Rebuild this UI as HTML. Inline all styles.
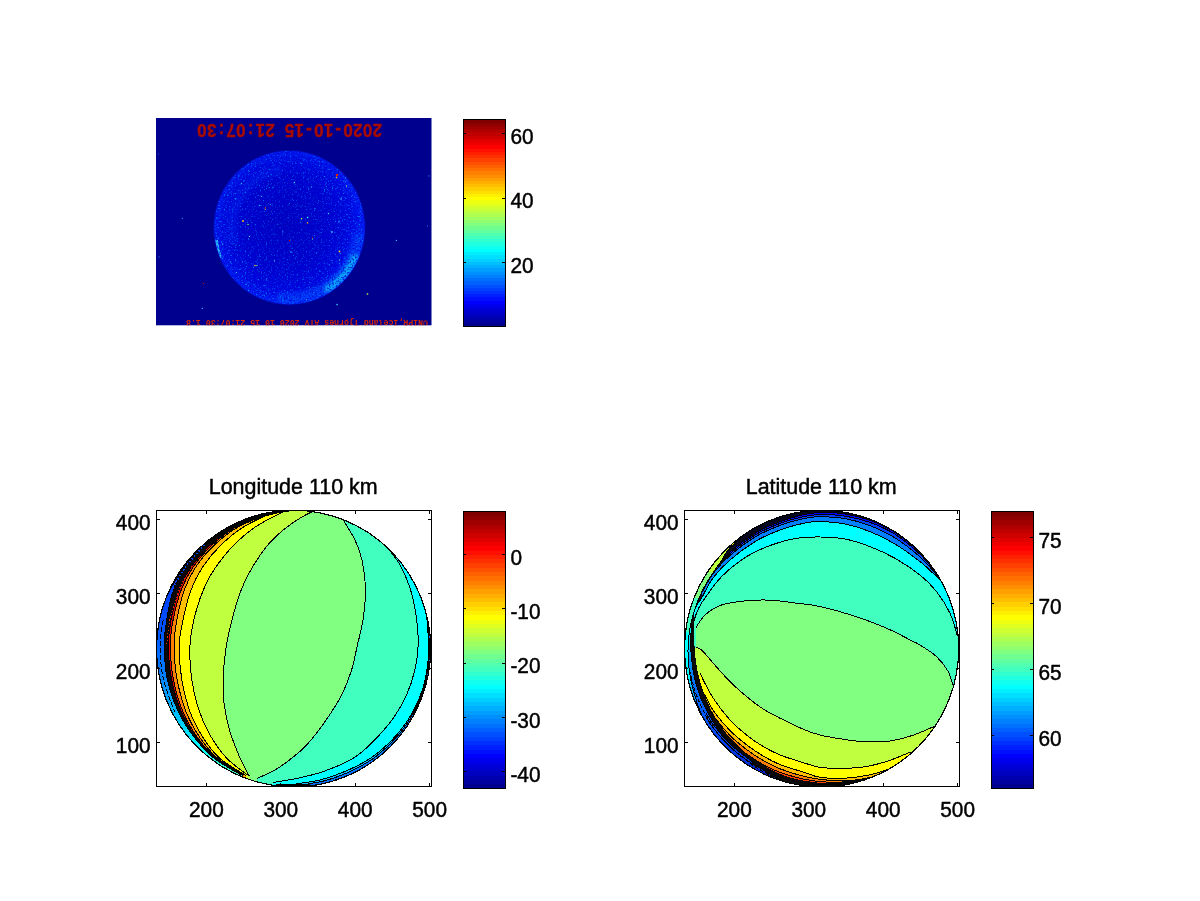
<!DOCTYPE html>
<html lang="en"><head><meta charset="utf-8"><title>Figure 1</title>
<style>html,body{margin:0;padding:0;background:#fff}body{width:1200px;height:901px;overflow:hidden}svg{display:block}text{font-family:"Liberation Sans",sans-serif;font-size:20.83px;fill:#000;stroke:#000;stroke-width:0.45px}</style></head><body>
<svg width="1200" height="901" viewBox="0 0 1200 901">
<defs>
<clipPath id="cb1"><rect x="156" y="510" width="276" height="277"/></clipPath>
<clipPath id="cb2"><rect x="684" y="510" width="276" height="277"/></clipPath>
<clipPath id="ce1" clip-path="url(#cb1)"><ellipse cx="293.6" cy="648.6" rx="137.1" ry="138.3"/></clipPath>
<clipPath id="ce2" clip-path="url(#cb2)"><ellipse cx="821.6" cy="648.6" rx="137.1" ry="138.3"/></clipPath>
<clipPath id="cimg"><rect x="156" y="118" width="275.5" height="207.3"/></clipPath>
<clipPath id="cdisc"><ellipse cx="289.4" cy="227.6" rx="75.2" ry="76.6"/></clipPath>
<radialGradient id="disc" cx="0.47" cy="0.47" r="0.55"><stop offset="0" stop-color="#0000BE"/><stop offset="0.55" stop-color="#0002CE"/><stop offset="0.85" stop-color="#000AE6"/><stop offset="1" stop-color="#0018F8"/></radialGradient>
<radialGradient id="nmg" cx="0.5" cy="0.5" r="0.5"><stop offset="0" stop-color="#fff" stop-opacity="0.6"/><stop offset="0.6" stop-color="#fff" stop-opacity="0.75"/><stop offset="1" stop-color="#fff" stop-opacity="1"/></radialGradient>
<mask id="nm" maskUnits="userSpaceOnUse" x="210" y="148" width="160" height="160"><ellipse cx="289.4" cy="227.6" rx="75.2" ry="76.6" fill="url(#nmg)"/></mask>
<filter id="bl" x="-20%" y="-20%" width="140%" height="140%"><feGaussianBlur stdDeviation="2.2"/></filter>
<filter id="bl2" x="-20%" y="-20%" width="140%" height="140%"><feGaussianBlur stdDeviation="5"/></filter>
<filter id="noise" x="0" y="0" width="100%" height="100%"><feTurbulence type="fractalNoise" baseFrequency="0.62" numOctaves="2" seed="11" result="t"/><feColorMatrix in="t" type="matrix" values="0 0 0 0 0  1.3 0 0 0 -0.48  0 0 0 0 1  0 3.0 0 0 -1.56"/></filter>
<filter id="noised" x="0" y="0" width="100%" height="100%"><feTurbulence type="fractalNoise" baseFrequency="0.58" numOctaves="2" seed="29" result="t"/><feColorMatrix in="t" type="matrix" values="0 0 0 0 0  0 0 0 0 0  0 0 0 0 0.60  0 0 3.2 0 -1.5"/></filter>
<linearGradient id="rimL" gradientUnits="userSpaceOnUse" x1="0" y1="510" x2="0" y2="787"><stop offset="0" stop-color="#0020E0"/><stop offset="0.42" stop-color="#0050FF"/><stop offset="0.60" stop-color="#0080FF"/><stop offset="0.74" stop-color="#00BFFF"/><stop offset="0.86" stop-color="#00FFFF"/><stop offset="0.95" stop-color="#40FFBF"/><stop offset="1" stop-color="#80FF80"/></linearGradient>
<linearGradient id="rimR" gradientUnits="userSpaceOnUse" x1="0" y1="600" x2="0" y2="790"><stop offset="0" stop-color="#00FFFF"/><stop offset="0.22" stop-color="#00E8FF"/><stop offset="0.30" stop-color="#00A0FF"/><stop offset="0.45" stop-color="#0070FF"/><stop offset="0.75" stop-color="#0040F0"/><stop offset="1" stop-color="#0018B0"/></linearGradient>
<linearGradient id="rimR2" gradientUnits="userSpaceOnUse" x1="0" y1="536" x2="0" y2="720"><stop offset="0" stop-color="#FFFF00"/><stop offset="0.05" stop-color="#FFFF00"/><stop offset="0.06" stop-color="#BFFF40"/><stop offset="0.195" stop-color="#BFFF40"/><stop offset="0.2" stop-color="#80FF80"/><stop offset="0.335" stop-color="#80FF80"/><stop offset="0.34" stop-color="#40FFBF"/><stop offset="0.52" stop-color="#40FFBF"/><stop offset="0.53" stop-color="#00FFFF"/><stop offset="0.78" stop-color="#00FFFF"/><stop offset="0.8" stop-color="#00BFFF"/><stop offset="1" stop-color="#0080FF"/></linearGradient>
</defs>
<rect width="1200" height="901" fill="#fff"/>
<rect x="156" y="118" width="275.5" height="207.3" fill="#00008F"/>
<g clip-path="url(#cimg)">
<ellipse cx="289.4" cy="227.6" rx="76" ry="77.4" fill="#0010D0" opacity="0.6"/>
<ellipse cx="289.4" cy="227.6" rx="75.2" ry="76.6" fill="url(#disc)"/>
<g clip-path="url(#cdisc)">
<ellipse cx="289.4" cy="227.6" rx="75.2" ry="76.6" fill="none" stroke="#0030FF" stroke-width="12" opacity="0.45" filter="url(#bl2)"/>
<path d="M359.2 232.6 A70 71.4 0 0 1 277.2 297.9" fill="none" stroke="#0050FF" stroke-width="13" opacity="0.6" filter="url(#bl)"/>
<path d="M355.7 254.9 A71.5 72.9 0 0 1 325.1 290.7" fill="none" stroke="#10C8FF" stroke-width="7" opacity="0.9" filter="url(#bl)"/>
<path d="M216.3 240 A75.2 76.6 0 0 0 220.5 258" fill="none" stroke="#30E0FF" stroke-width="3.2" opacity="0.85"/>
<path d="M233.4 242.9 A58 59 0 0 1 281.3 169.2" fill="none" stroke="#0030F8" stroke-width="10" opacity="0.35" filter="url(#bl)"/>
<rect x="210" y="148" width="160" height="160" filter="url(#noise)" mask="url(#nm)"/>
<rect x="210" y="148" width="160" height="160" filter="url(#noised)" opacity="0.8"/>
</g>
<rect x="335.9" y="173.9" width="2.2" height="2.2" fill="#E02000"/>
<rect x="335.9" y="176.8" width="1.4" height="1.4" fill="#FFC000"/>
<rect x="264.7" y="207.3" width="1.3" height="1.3" fill="#E01010"/>
<rect x="264.8" y="208.7" width="1" height="1" fill="#80FF80"/>
<rect x="242.2" y="220.2" width="1.6" height="1.6" fill="#FFE000"/>
<rect x="247.4" y="223.9" width="1.2" height="1.2" fill="#80FF60"/>
<rect x="288.9" y="239.9" width="1.2" height="1.2" fill="#E00000"/>
<rect x="311.9" y="237.4" width="1.2" height="1.2" fill="#C00000"/>
<rect x="312" y="238.5" width="1" height="1" fill="#40FFC0"/>
<rect x="338.7" y="250.7" width="1.6" height="1.6" fill="#FFC000"/>
<rect x="306.9" y="222.3" width="1.3" height="1.3" fill="#FFB000"/>
<rect x="300.9" y="218" width="1.3" height="1.3" fill="#A0FF40"/>
<rect x="306.9" y="216.8" width="1.3" height="1.3" fill="#20FFE0"/>
<rect x="254.3" y="264.9" width="1.3" height="1.3" fill="#FFE000"/>
<rect x="256.4" y="264.9" width="1.1" height="1.1" fill="#60FFA0"/>
<rect x="293.9" y="181.9" width="1.2" height="1.2" fill="#40E0FF"/>
<rect x="240.9" y="182.9" width="1.2" height="1.2" fill="#40C0FF"/>
<rect x="310.9" y="186.4" width="1.2" height="1.2" fill="#30A0FF"/>
<rect x="345.9" y="185.4" width="1.1" height="1.1" fill="#A0FF80"/>
<rect x="340.4" y="198.3" width="1.3" height="1.3" fill="#40C0FF"/>
<rect x="260.9" y="195.9" width="1.1" height="1.1" fill="#30B0FF"/>
<rect x="258.9" y="204.9" width="1.2" height="1.2" fill="#30C0FF"/>
<rect x="269.9" y="203.9" width="1.1" height="1.1" fill="#2090FF"/>
<rect x="327.9" y="212.9" width="1.2" height="1.2" fill="#40D0FF"/>
<rect x="338.4" y="221.4" width="1.2" height="1.2" fill="#30B0FF"/>
<rect x="331.2" y="231.2" width="1.5" height="1.5" fill="#40D0FF"/>
<rect x="248.9" y="235.9" width="1.1" height="1.1" fill="#40D0FF"/>
<rect x="290.4" y="251.3" width="1.3" height="1.3" fill="#30B0FF"/>
<rect x="273.9" y="260.4" width="1.1" height="1.1" fill="#40D0FF"/>
<rect x="338.9" y="259.4" width="1.1" height="1.1" fill="#40E0C0"/>
<rect x="235.9" y="271.9" width="1.1" height="1.1" fill="#30B0FF"/>
<rect x="265.9" y="278.4" width="1.1" height="1.1" fill="#2090FF"/>
<rect x="282.4" y="231.4" width="1.1" height="1.1" fill="#2090FF"/>
<rect x="295.5" y="191.5" width="1" height="1" fill="#2090FF"/>
<rect x="222" y="243.5" width="1" height="1" fill="#40D0FF"/>
<rect x="316" y="252.5" width="1" height="1" fill="#2090FF"/>
<rect x="366.8" y="293.3" width="1.4" height="1.4" fill="#C0FF40"/>
<rect x="336.4" y="303.9" width="1.3" height="1.3" fill="#40E0FF"/>
<rect x="202.9" y="282.9" width="1.1" height="1.1" fill="#C00000"/>
<rect x="201.8" y="307.9" width="1.1" height="1.1" fill="#40C0FF"/>
<rect x="395.9" y="239.9" width="1.1" height="1.1" fill="#40C0FF"/>
<rect x="181.8" y="217.9" width="1.1" height="1.1" fill="#3080FF"/>
<rect x="158.5" y="256.5" width="1" height="1" fill="#3080FF"/>
<rect x="428.4" y="175.4" width="1.1" height="1.1" fill="#3080FF"/>
<rect x="427" y="225.5" width="1" height="1" fill="#3070FF"/>
<rect x="158" y="153.5" width="1" height="1" fill="#2050E0"/>
<rect x="347" y="319" width="1" height="1" fill="#B00000"/>
<text transform="translate(289.6 131) rotate(180) scale(0.94 1)" text-anchor="middle" x="-93.3 -82.9 -72.5 -62.2 -51.8 -41.4 -31.1 -20.7 -10.4 0 10.4 20.7 31.1 41.4 51.8 62.2 72.5 82.9 93.3" y="6.5" style="font-family:'Liberation Sans',sans-serif;font-size:18px;font-weight:bold;fill:#A80C00;stroke:#A80C00;stroke-width:0.4px">2020-10-15 21:07:30</text>
<text transform="translate(307 323.4) rotate(180)" text-anchor="middle" y="3" style="font-family:'Liberation Mono',monospace;font-size:8.2px;font-weight:bold;fill:#D82800;stroke:none" textLength="242" lengthAdjust="spacingAndGlyphs">©NIPR,Iceland Tjornes ATV 2020 10 15 21:07:30 1.8</text>
</g>
<g shape-rendering="crispEdges">
<rect x="463.5" y="119.5" width="42" height="3.53" fill="#800000"/>
<rect x="463.5" y="122.7" width="42" height="3.53" fill="#8F0000"/>
<rect x="463.5" y="126" width="42" height="3.53" fill="#9F0000"/>
<rect x="463.5" y="129.2" width="42" height="3.53" fill="#AF0000"/>
<rect x="463.5" y="132.4" width="42" height="3.53" fill="#BF0000"/>
<rect x="463.5" y="135.7" width="42" height="3.53" fill="#CF0000"/>
<rect x="463.5" y="138.9" width="42" height="3.53" fill="#DF0000"/>
<rect x="463.5" y="142.1" width="42" height="3.53" fill="#EF0000"/>
<rect x="463.5" y="145.4" width="42" height="3.53" fill="#FF0000"/>
<rect x="463.5" y="148.6" width="42" height="3.53" fill="#FF1000"/>
<rect x="463.5" y="151.8" width="42" height="3.53" fill="#FF2000"/>
<rect x="463.5" y="155.1" width="42" height="3.53" fill="#FF3000"/>
<rect x="463.5" y="158.3" width="42" height="3.53" fill="#FF4000"/>
<rect x="463.5" y="161.5" width="42" height="3.53" fill="#FF5000"/>
<rect x="463.5" y="164.8" width="42" height="3.53" fill="#FF6000"/>
<rect x="463.5" y="168" width="42" height="3.53" fill="#FF7000"/>
<rect x="463.5" y="171.2" width="42" height="3.53" fill="#FF8000"/>
<rect x="463.5" y="174.5" width="42" height="3.53" fill="#FF8F00"/>
<rect x="463.5" y="177.7" width="42" height="3.53" fill="#FF9F00"/>
<rect x="463.5" y="181" width="42" height="3.53" fill="#FFAF00"/>
<rect x="463.5" y="184.2" width="42" height="3.53" fill="#FFBF00"/>
<rect x="463.5" y="187.4" width="42" height="3.53" fill="#FFCF00"/>
<rect x="463.5" y="190.7" width="42" height="3.53" fill="#FFDF00"/>
<rect x="463.5" y="193.9" width="42" height="3.53" fill="#FFEF00"/>
<rect x="463.5" y="197.1" width="42" height="3.53" fill="#FFFF00"/>
<rect x="463.5" y="200.4" width="42" height="3.53" fill="#EFFF10"/>
<rect x="463.5" y="203.6" width="42" height="3.53" fill="#DFFF20"/>
<rect x="463.5" y="206.8" width="42" height="3.53" fill="#CFFF30"/>
<rect x="463.5" y="210.1" width="42" height="3.53" fill="#BFFF40"/>
<rect x="463.5" y="213.3" width="42" height="3.53" fill="#AFFF50"/>
<rect x="463.5" y="216.5" width="42" height="3.53" fill="#9FFF60"/>
<rect x="463.5" y="219.8" width="42" height="3.53" fill="#8FFF70"/>
<rect x="463.5" y="223" width="42" height="3.53" fill="#80FF80"/>
<rect x="463.5" y="226.2" width="42" height="3.53" fill="#70FF8F"/>
<rect x="463.5" y="229.5" width="42" height="3.53" fill="#60FF9F"/>
<rect x="463.5" y="232.7" width="42" height="3.53" fill="#50FFAF"/>
<rect x="463.5" y="235.9" width="42" height="3.53" fill="#40FFBF"/>
<rect x="463.5" y="239.2" width="42" height="3.53" fill="#30FFCF"/>
<rect x="463.5" y="242.4" width="42" height="3.53" fill="#20FFDF"/>
<rect x="463.5" y="245.6" width="42" height="3.53" fill="#10FFEF"/>
<rect x="463.5" y="248.9" width="42" height="3.53" fill="#00FFFF"/>
<rect x="463.5" y="252.1" width="42" height="3.53" fill="#00EFFF"/>
<rect x="463.5" y="255.3" width="42" height="3.53" fill="#00DFFF"/>
<rect x="463.5" y="258.6" width="42" height="3.53" fill="#00CFFF"/>
<rect x="463.5" y="261.8" width="42" height="3.53" fill="#00BFFF"/>
<rect x="463.5" y="265" width="42" height="3.53" fill="#00AFFF"/>
<rect x="463.5" y="268.3" width="42" height="3.53" fill="#009FFF"/>
<rect x="463.5" y="271.5" width="42" height="3.53" fill="#008FFF"/>
<rect x="463.5" y="274.8" width="42" height="3.53" fill="#0080FF"/>
<rect x="463.5" y="278" width="42" height="3.53" fill="#0070FF"/>
<rect x="463.5" y="281.2" width="42" height="3.53" fill="#0060FF"/>
<rect x="463.5" y="284.5" width="42" height="3.53" fill="#0050FF"/>
<rect x="463.5" y="287.7" width="42" height="3.53" fill="#0040FF"/>
<rect x="463.5" y="290.9" width="42" height="3.53" fill="#0030FF"/>
<rect x="463.5" y="294.2" width="42" height="3.53" fill="#0020FF"/>
<rect x="463.5" y="297.4" width="42" height="3.53" fill="#0010FF"/>
<rect x="463.5" y="300.6" width="42" height="3.53" fill="#0000FF"/>
<rect x="463.5" y="303.9" width="42" height="3.53" fill="#0000EF"/>
<rect x="463.5" y="307.1" width="42" height="3.53" fill="#0000DF"/>
<rect x="463.5" y="310.3" width="42" height="3.53" fill="#0000CF"/>
<rect x="463.5" y="313.6" width="42" height="3.53" fill="#0000BF"/>
<rect x="463.5" y="316.8" width="42" height="3.53" fill="#0000AF"/>
<rect x="463.5" y="320" width="42" height="3.53" fill="#00009F"/>
<rect x="463.5" y="323.3" width="42" height="3.53" fill="#00008F"/>
<rect x="463.5" y="119.5" width="42" height="207" fill="none" stroke="#000" stroke-width="1"/>
<path d="M464 133.5h2M505 133.5h-3" stroke="#000" stroke-width="1"/>
<text transform="translate(510.4 143.9) scale(1 1.05)">60</text>
<path d="M464 198.5h2M505 198.5h-3" stroke="#000" stroke-width="1"/>
<text transform="translate(510.4 208.4) scale(1 1.05)">40</text>
<path d="M464 262.5h2M505 262.5h-3" stroke="#000" stroke-width="1"/>
<text transform="translate(510.4 272.9) scale(1 1.05)">20</text>
</g>
<g clip-path="url(#ce1)" shape-rendering="crispEdges">
<rect x="150" y="500" width="300" height="300" fill="url(#rimL)"/>
<path d="M272.2 472L272.2 512C264.8 514.5 239.5 521.7 227.9 527.2C216.4 532.7 210 538.5 202.8 545C195.6 551.5 189.7 559 184.8 566.5C179.9 574 176.3 581.1 173.3 590C170.2 598.9 168.2 610.8 166.7 620C165.2 629.2 164.2 635.3 164.3 645C164.4 654.7 164.8 667.2 167.1 678.3C169.5 689.4 173.6 701.6 178.3 711.6C182.9 721.6 188.9 730.2 194.9 738C201 745.8 206.6 752.3 214.4 758.5C222.2 764.7 237.1 772.5 241.6 775.3L241.6 815.3L500 830L500 470Z" fill="#080808"/>
<path d="M272.5 472L272.5 512C266.1 514.5 244.6 521.7 234.2 527.2C223.8 532.7 217.4 538.5 210.2 545C203.1 551.5 196.7 559 191.5 566.5C186.3 574 182.6 581.1 179.1 590C175.7 598.9 172.8 610.8 171 620C169.2 629.2 168.4 635.3 168.5 645C168.5 654.7 169.2 667.2 171.3 678.3C173.5 689.4 177.1 701.6 181.3 711.6C185.5 721.6 190.9 730.2 196.6 738C202.3 745.8 207.8 752.3 215.5 758.5C223.1 764.7 237.9 772.5 242.4 775.3L242.4 815.3L500 830L500 470Z" fill="#DF0000"/>
<path d="M272.6 472L272.6 512C266.4 514.5 245.8 521.7 235.7 527.2C225.6 532.7 219.1 538.5 212.1 545C205 551.5 198.6 559 193.5 566.5C188.3 574 184.6 581.1 181.2 590C177.8 598.9 174.9 610.8 173.1 620C171.3 629.2 170.4 635.3 170.4 645C170.4 654.7 171.1 667.2 173.2 678.3C175.2 689.4 178.8 701.6 182.9 711.6C187 721.6 192.2 730.2 197.8 738C203.4 745.8 208.8 752.3 216.3 758.5C223.8 764.7 238.5 772.5 243 775.3L243 815.3L500 830L500 470Z" fill="#FF8000"/>
<path d="M272.7 472L272.7 512C266.9 514.5 247.4 521.7 237.7 527.2C228 532.7 221.4 538.5 214.4 545C207.5 551.5 201.1 559 196.1 566.5C191.1 574 187.5 581.1 184.3 590C181.1 598.9 178.5 610.8 176.8 620C175.1 629.2 174.2 635.3 174.2 645C174.2 654.7 174.9 667.2 176.9 678.3C178.9 689.4 182.1 701.6 186 711.6C189.9 721.6 194.9 730.2 200.2 738C205.5 745.8 210.6 752.3 217.9 758.5C225.3 764.7 239.8 772.5 244.2 775.3L244.2 815.3L500 830L500 470Z" fill="#FFBF00"/>
<path d="M273 472L273 512C268 514.5 251.9 521.7 243.2 527.2C234.5 532.7 227.7 538.5 221 545C214.3 551.5 208 559 203 566.5C198 574 194.3 581.1 191 590C187.7 598.9 184.9 610.8 183 620C181.1 629.2 179.5 635.3 179.3 645C179.1 654.7 179.8 667.2 181.6 678.3C183.4 689.4 186.4 701.6 190 711.6C193.6 721.6 198.3 730.2 203.3 738C208.3 745.8 212.9 752.3 220 758.5C227.1 764.7 241.4 772.5 245.7 775.3L245.7 815.3L500 830L500 470Z" fill="#FFFF00"/>
<path d="M285.5 470.5L285.5 510.5C280.7 513.1 264.8 520.7 256.5 526.2C248.2 531.7 241.8 537.1 235.5 543.3C229.2 549.5 223.5 556.4 218.5 563.3C213.5 570.2 209.3 576.6 205.5 584.9C201.7 593.2 198.1 603.2 195.5 613.2C192.9 623.2 190.7 634.1 190 645C189.3 655.9 190.2 667.8 191.6 678.3C193 688.8 195.2 698.8 198.3 708.3C201.4 717.8 205.3 726.7 210 735C214.7 743.3 220.4 751.3 226.6 758C232.8 764.7 243.9 772.2 247.4 775L247.4 815L500 830L500 470Z" fill="#BFFF40"/>
<path d="M312.5 471.5L312.5 511.5C310.4 512.6 304.7 515.2 299.8 518.3C294.9 521.4 288.8 525.3 283.2 530C277.6 534.7 272.1 539.7 266.5 546.6C260.9 553.5 254.3 563.8 249.9 571.6C245.5 579.4 243 584.9 239.9 593.2C236.8 601.5 234 612 231.6 621.5C229.2 631 227.1 640.5 225.7 650C224.3 659.5 223.5 669.4 223.2 678.3C222.9 687.2 222.9 694.4 224 703.3C225.1 712.2 227.3 722.5 230 731.6C232.7 740.7 236.8 750.5 240 758C243.2 765.5 247.9 773.4 249.5 776.5L249.5 816.5L500 830L500 470Z" fill="#80FF80"/>
<path d="M343 479.7L343 519.7C345 523.1 351.8 533.3 355 540C358.2 546.7 360.2 552 362 560C363.8 568 365.3 578 365.5 588C365.7 598 364.4 610.5 363 620C361.6 629.5 359.3 636.7 357.4 645C355.5 653.3 354.2 661.7 351.6 670C349 678.3 346 686.4 341.6 695C337.2 703.6 330.8 713.3 325 721.6C319.2 729.9 312.4 738.7 306.6 745C300.8 751.3 295.3 755.3 290 759.5C284.7 763.7 280.5 766.8 275 770C269.5 773.2 260 777.1 257 778.5L257 818.5L500 830L500 470Z" fill="#40FFBF"/>
<path d="M388 508.5L388 548.5C390 551.2 396.3 558.4 400 565C403.7 571.6 407.3 579.7 410 588C412.7 596.3 414.6 605.5 416 615C417.4 624.5 418.4 635.8 418.2 645C418 654.2 416.8 661.7 414.9 670C412.9 678.3 410.1 687 406.5 695C402.9 703 398.8 710.5 393.2 718.2C387.6 726 379.8 734.8 373.2 741.5C366.6 748.2 361.6 753.2 353.3 758.2C345 763.2 332.9 768.1 323.3 771.5C313.8 774.9 304.4 776.8 296 778.6C287.6 780.4 276.8 781.8 273 782.4L273 822.4L500 830L500 470Z" fill="#00FFFF"/>
<path d="M424.5 567L424.5 607C424.9 609.2 426.3 613.7 427 620C427.7 626.3 428.3 638.1 428.5 645C428.7 651.9 428.9 654.4 428 661.6C427.1 668.8 425.5 679.7 423 688C420.5 696.3 417.4 703.8 413 711.6C408.6 719.4 403.2 727.5 396.5 735C389.8 742.5 381.3 750.5 373 756.5C364.7 762.5 355.4 766.9 346.6 770.8C337.8 774.7 328.4 777.8 320 780C311.6 782.2 300 783.2 296 783.8L296 823.8L500 830L500 470Z" fill="#00BFFF"/>
<path d="M424.4 567L424.4 607C424.9 609.2 426.5 613.7 427.3 620C428.2 626.3 429.2 638.1 429.5 645C429.7 651.9 429.9 654.4 428.9 661.6C428 668.8 426.4 679.7 423.9 688C421.5 696.3 418.4 703.8 414.2 711.6C409.9 719.4 404.8 727.5 398.4 735C392 742.5 383.7 750.5 375.9 756.5C368.1 762.5 359.7 766.9 351.6 770.8C343.6 774.7 334.7 777.8 327.4 780C320.1 782.2 311.2 783.2 307.9 783.8L307.9 823.8L500 830L500 470Z" fill="#0070FF"/>
<path d="M272.2 512C264.8 514.5 239.5 521.7 227.9 527.2C216.4 532.7 210 538.5 202.8 545C195.6 551.5 189.7 559 184.8 566.5C179.9 574 176.3 581.1 173.3 590C170.2 598.9 168.2 610.8 166.7 620C165.2 629.2 164.2 635.3 164.3 645C164.4 654.7 164.8 667.2 167.1 678.3C169.5 689.4 173.6 701.6 178.3 711.6C182.9 721.6 188.9 730.2 194.9 738C201 745.8 206.6 752.3 214.4 758.5C222.2 764.7 237.1 772.5 241.6 775.3" fill="none" stroke="#000" stroke-width="1"/>
<path d="M272.5 512C266.1 514.5 244.6 521.7 234.2 527.2C223.8 532.7 217.4 538.5 210.2 545C203.1 551.5 196.7 559 191.5 566.5C186.3 574 182.6 581.1 179.1 590C175.7 598.9 172.8 610.8 171 620C169.2 629.2 168.4 635.3 168.5 645C168.5 654.7 169.2 667.2 171.3 678.3C173.5 689.4 177.1 701.6 181.3 711.6C185.5 721.6 190.9 730.2 196.6 738C202.3 745.8 207.8 752.3 215.5 758.5C223.1 764.7 237.9 772.5 242.4 775.3" fill="none" stroke="#000" stroke-width="1"/>
<path d="M272.6 512C266.4 514.5 245.8 521.7 235.7 527.2C225.6 532.7 219.1 538.5 212.1 545C205 551.5 198.6 559 193.5 566.5C188.3 574 184.6 581.1 181.2 590C177.8 598.9 174.9 610.8 173.1 620C171.3 629.2 170.4 635.3 170.4 645C170.4 654.7 171.1 667.2 173.2 678.3C175.2 689.4 178.8 701.6 182.9 711.6C187 721.6 192.2 730.2 197.8 738C203.4 745.8 208.8 752.3 216.3 758.5C223.8 764.7 238.5 772.5 243 775.3" fill="none" stroke="#000" stroke-width="1"/>
<path d="M272.7 512C266.9 514.5 247.4 521.7 237.7 527.2C228 532.7 221.4 538.5 214.4 545C207.5 551.5 201.1 559 196.1 566.5C191.1 574 187.5 581.1 184.3 590C181.1 598.9 178.5 610.8 176.8 620C175.1 629.2 174.2 635.3 174.2 645C174.2 654.7 174.9 667.2 176.9 678.3C178.9 689.4 182.1 701.6 186 711.6C189.9 721.6 194.9 730.2 200.2 738C205.5 745.8 210.6 752.3 217.9 758.5C225.3 764.7 239.8 772.5 244.2 775.3" fill="none" stroke="#000" stroke-width="1"/>
<path d="M273 512C268 514.5 251.9 521.7 243.2 527.2C234.5 532.7 227.7 538.5 221 545C214.3 551.5 208 559 203 566.5C198 574 194.3 581.1 191 590C187.7 598.9 184.9 610.8 183 620C181.1 629.2 179.5 635.3 179.3 645C179.1 654.7 179.8 667.2 181.6 678.3C183.4 689.4 186.4 701.6 190 711.6C193.6 721.6 198.3 730.2 203.3 738C208.3 745.8 212.9 752.3 220 758.5C227.1 764.7 241.4 772.5 245.7 775.3" fill="none" stroke="#000" stroke-width="1"/>
<path d="M285.5 510.5C280.7 513.1 264.8 520.7 256.5 526.2C248.2 531.7 241.8 537.1 235.5 543.3C229.2 549.5 223.5 556.4 218.5 563.3C213.5 570.2 209.3 576.6 205.5 584.9C201.7 593.2 198.1 603.2 195.5 613.2C192.9 623.2 190.7 634.1 190 645C189.3 655.9 190.2 667.8 191.6 678.3C193 688.8 195.2 698.8 198.3 708.3C201.4 717.8 205.3 726.7 210 735C214.7 743.3 220.4 751.3 226.6 758C232.8 764.7 243.9 772.2 247.4 775" fill="none" stroke="#000" stroke-width="1"/>
<path d="M312.5 511.5C310.4 512.6 304.7 515.2 299.8 518.3C294.9 521.4 288.8 525.3 283.2 530C277.6 534.7 272.1 539.7 266.5 546.6C260.9 553.5 254.3 563.8 249.9 571.6C245.5 579.4 243 584.9 239.9 593.2C236.8 601.5 234 612 231.6 621.5C229.2 631 227.1 640.5 225.7 650C224.3 659.5 223.5 669.4 223.2 678.3C222.9 687.2 222.9 694.4 224 703.3C225.1 712.2 227.3 722.5 230 731.6C232.7 740.7 236.8 750.5 240 758C243.2 765.5 247.9 773.4 249.5 776.5" fill="none" stroke="#000" stroke-width="1"/>
<path d="M343 519.7C345 523.1 351.8 533.3 355 540C358.2 546.7 360.2 552 362 560C363.8 568 365.3 578 365.5 588C365.7 598 364.4 610.5 363 620C361.6 629.5 359.3 636.7 357.4 645C355.5 653.3 354.2 661.7 351.6 670C349 678.3 346 686.4 341.6 695C337.2 703.6 330.8 713.3 325 721.6C319.2 729.9 312.4 738.7 306.6 745C300.8 751.3 295.3 755.3 290 759.5C284.7 763.7 280.5 766.8 275 770C269.5 773.2 260 777.1 257 778.5" fill="none" stroke="#000" stroke-width="1"/>
<path d="M388 548.5C390 551.2 396.3 558.4 400 565C403.7 571.6 407.3 579.7 410 588C412.7 596.3 414.6 605.5 416 615C417.4 624.5 418.4 635.8 418.2 645C418 654.2 416.8 661.7 414.9 670C412.9 678.3 410.1 687 406.5 695C402.9 703 398.8 710.5 393.2 718.2C387.6 726 379.8 734.8 373.2 741.5C366.6 748.2 361.6 753.2 353.3 758.2C345 763.2 332.9 768.1 323.3 771.5C313.8 774.9 304.4 776.8 296 778.6C287.6 780.4 276.8 781.8 273 782.4" fill="none" stroke="#000" stroke-width="1"/>
<path d="M424.5 607C424.9 609.2 426.3 613.7 427 620C427.7 626.3 428.3 638.1 428.5 645C428.7 651.9 428.9 654.4 428 661.6C427.1 668.8 425.5 679.7 423 688C420.5 696.3 417.4 703.8 413 711.6C408.6 719.4 403.2 727.5 396.5 735C389.8 742.5 381.3 750.5 373 756.5C364.7 762.5 355.4 766.9 346.6 770.8C337.8 774.7 328.4 777.8 320 780C311.6 782.2 300 783.2 296 783.8" fill="none" stroke="#000" stroke-width="1"/>
<path d="M424.4 607C424.9 609.2 426.5 613.7 427.3 620C428.2 626.3 429.2 638.1 429.5 645C429.7 651.9 429.9 654.4 428.9 661.6C428 668.8 426.4 679.7 423.9 688C421.5 696.3 418.4 703.8 414.2 711.6C409.9 719.4 404.8 727.5 398.4 735C392 742.5 383.7 750.5 375.9 756.5C368.1 762.5 359.7 766.9 351.6 770.8C343.6 774.7 334.7 777.8 327.4 780C320.1 782.2 311.2 783.2 307.9 783.8" fill="none" stroke="#000" stroke-width="1"/>
<rect x="276" y="784" width="34" height="4" fill="#000"/>
<path d="M161.8 610.5C162.1 609.8 162.8 607.6 163.3 606.2C163.9 604.7 164.4 603.3 165 601.9C165.6 600.5 166.2 599.1 166.8 597.7C167.4 596.3 168 594.9 168.7 593.6C169.4 592.2 170.1 590.8 170.8 589.5C171.5 588.1 172.2 586.8 172.9 585.5C173.7 584.2 174.5 582.9 175.3 581.6C176.1 580.3 176.9 579 177.7 577.8C178.5 576.5 179.4 575.3 180.3 574.1C181.1 572.8 182 571.6 182.9 570.4C183.8 569.2 184.7 568 185.6 566.8C186.6 565.6 187.5 564.5 188.5 563.3C189.4 562.2 190.4 561 191.4 559.9C192.4 558.8 193.4 557.7 194.4 556.6C195.5 555.5 196.5 554.4 197.6 553.4C198.6 552.3 199.7 551.3 200.8 550.3C201.9 549.3 203 548.3 204.2 547.3C205.3 546.3 206.4 545.4 207.6 544.4C208.7 543.5 209.9 542.6 211.1 541.7C212.3 540.8 213.5 539.9 214.7 539.1C215.9 538.2 217.2 537.4 218.4 536.6C219.7 535.8 220.9 535 222.2 534.2C223.5 533.4 224.8 532.7 226 531.9C227.3 531.2 228.6 530.5 229.9 529.7C231.2 529 232.5 528.3 233.8 527.7C235.2 527 236.5 526.3 237.8 525.7C239.2 525.1 240.5 524.5 241.9 523.9C243.3 523.3 244.6 522.7 246 522.2C247.4 521.7 248.8 521.2 250.2 520.7C251.6 520.2 253 519.7 254.4 519.3C255.8 518.8 257.2 518.4 258.7 518C260.1 517.6 261.5 517.3 263 516.9C264.4 516.5 265.9 516.2 267.3 515.8C268.7 515.5 270.2 515.1 271.6 514.7C273.1 514.4 274.5 514.1 276 513.8C277.5 513.5 278.9 513.2 280.4 513C281.9 512.7 283.4 512.5 284.9 512.3C286.3 512 287.8 511.7 289.3 511.5C290.8 511.3 292.3 511.1 293.8 510.9C295.3 510.7 297.6 510.5 298.4 510.4L298.6 504.4L289.1 504.4L279.6 505L270.2 506.2L260.9 508.1L251.8 510.6L242.8 513.7L234 517.4L225.5 521.7L217.3 526.5L209.5 531.9L202 537.7L194.9 544.1L188.3 550.9L182.1 558.2L176.4 565.8L171.2 573.8L166.6 582.2L162.5 590.8L159 599.7L156 608.8Z" fill="#000"/>
<path d="M204.4 545C201.3 548.6 191.4 559 186 566.5C180.7 574 176.3 581.1 172.4 590C168.6 598.9 164.4 615 162.8 620" fill="none" stroke="#0048FF" stroke-width="1.6" stroke-dasharray="1.5 2"/>
<path d="M163.2 620C162.7 624.2 160.2 635.3 160.2 645C160.2 654.7 160.8 667.2 163.2 678.3C165.6 689.4 172.6 706 174.5 711.6" fill="none" stroke="#000" stroke-width="1" stroke-dasharray="5 2"/>
<path d="M192 566.5C189.8 570.4 182.6 581.1 178.9 590C175.2 598.9 171.9 610.8 169.8 620C167.8 629.2 167.1 640.8 166.6 645" fill="none" stroke="#E03000" stroke-width="1" stroke-dasharray="1.2 2.2"/>
</g>
<g clip-path="url(#cb1)"><ellipse cx="293.6" cy="648.6" rx="137.1" ry="138.3" fill="none" stroke="#000" stroke-width="1.2" shape-rendering="crispEdges"/></g>
<g shape-rendering="crispEdges">
<rect x="156.5" y="510.5" width="275" height="276" fill="none" stroke="#000" stroke-width="1"/>
<text transform="translate(206.4 817.3) scale(1 1.05)" text-anchor="middle">200</text>
<text transform="translate(280.8 817.3) scale(1 1.05)" text-anchor="middle">300</text>
<text transform="translate(355.2 817.3) scale(1 1.05)" text-anchor="middle">400</text>
<text transform="translate(429.6 817.3) scale(1 1.05)" text-anchor="middle">500</text>
<text transform="translate(150.6 529.9) scale(1 1.05)" text-anchor="end">400</text>
<text transform="translate(150.6 604.2) scale(1 1.05)" text-anchor="end">300</text>
<text transform="translate(150.6 678.6) scale(1 1.05)" text-anchor="end">200</text>
<text transform="translate(150.6 752.9) scale(1 1.05)" text-anchor="end">100</text>
<path d="M206.5 786v-3M206.5 511v3M280.5 786v-3M280.5 511v3M355.5 786v-3M355.5 511v3M429.5 786v-3M429.5 511v3M157 519.5h3M431 519.5h-3M157 593.5h3M431 593.5h-3M157 668.5h3M431 668.5h-3M157 742.5h3M431 742.5h-3" stroke="#000" stroke-width="1" fill="none"/>
<rect x="463.5" y="511.5" width="42" height="4.63" fill="#800000"/>
<rect x="463.5" y="515.8" width="42" height="4.63" fill="#8F0000"/>
<rect x="463.5" y="520.2" width="42" height="4.63" fill="#9F0000"/>
<rect x="463.5" y="524.5" width="42" height="4.63" fill="#AF0000"/>
<rect x="463.5" y="528.8" width="42" height="4.63" fill="#BF0000"/>
<rect x="463.5" y="533.1" width="42" height="4.63" fill="#CF0000"/>
<rect x="463.5" y="537.5" width="42" height="4.63" fill="#DF0000"/>
<rect x="463.5" y="541.8" width="42" height="4.63" fill="#EF0000"/>
<rect x="463.5" y="546.1" width="42" height="4.63" fill="#FF0000"/>
<rect x="463.5" y="550.5" width="42" height="4.63" fill="#FF1000"/>
<rect x="463.5" y="554.8" width="42" height="4.63" fill="#FF2000"/>
<rect x="463.5" y="559.1" width="42" height="4.63" fill="#FF3000"/>
<rect x="463.5" y="563.4" width="42" height="4.63" fill="#FF4000"/>
<rect x="463.5" y="567.8" width="42" height="4.63" fill="#FF5000"/>
<rect x="463.5" y="572.1" width="42" height="4.63" fill="#FF6000"/>
<rect x="463.5" y="576.4" width="42" height="4.63" fill="#FF7000"/>
<rect x="463.5" y="580.8" width="42" height="4.63" fill="#FF8000"/>
<rect x="463.5" y="585.1" width="42" height="4.63" fill="#FF8F00"/>
<rect x="463.5" y="589.4" width="42" height="4.63" fill="#FF9F00"/>
<rect x="463.5" y="593.7" width="42" height="4.63" fill="#FFAF00"/>
<rect x="463.5" y="598.1" width="42" height="4.63" fill="#FFBF00"/>
<rect x="463.5" y="602.4" width="42" height="4.63" fill="#FFCF00"/>
<rect x="463.5" y="606.7" width="42" height="4.63" fill="#FFDF00"/>
<rect x="463.5" y="611" width="42" height="4.63" fill="#FFEF00"/>
<rect x="463.5" y="615.4" width="42" height="4.63" fill="#FFFF00"/>
<rect x="463.5" y="619.7" width="42" height="4.63" fill="#EFFF10"/>
<rect x="463.5" y="624" width="42" height="4.63" fill="#DFFF20"/>
<rect x="463.5" y="628.4" width="42" height="4.63" fill="#CFFF30"/>
<rect x="463.5" y="632.7" width="42" height="4.63" fill="#BFFF40"/>
<rect x="463.5" y="637" width="42" height="4.63" fill="#AFFF50"/>
<rect x="463.5" y="641.3" width="42" height="4.63" fill="#9FFF60"/>
<rect x="463.5" y="645.7" width="42" height="4.63" fill="#8FFF70"/>
<rect x="463.5" y="650" width="42" height="4.63" fill="#80FF80"/>
<rect x="463.5" y="654.3" width="42" height="4.63" fill="#70FF8F"/>
<rect x="463.5" y="658.7" width="42" height="4.63" fill="#60FF9F"/>
<rect x="463.5" y="663" width="42" height="4.63" fill="#50FFAF"/>
<rect x="463.5" y="667.3" width="42" height="4.63" fill="#40FFBF"/>
<rect x="463.5" y="671.6" width="42" height="4.63" fill="#30FFCF"/>
<rect x="463.5" y="676" width="42" height="4.63" fill="#20FFDF"/>
<rect x="463.5" y="680.3" width="42" height="4.63" fill="#10FFEF"/>
<rect x="463.5" y="684.6" width="42" height="4.63" fill="#00FFFF"/>
<rect x="463.5" y="689" width="42" height="4.63" fill="#00EFFF"/>
<rect x="463.5" y="693.3" width="42" height="4.63" fill="#00DFFF"/>
<rect x="463.5" y="697.6" width="42" height="4.63" fill="#00CFFF"/>
<rect x="463.5" y="701.9" width="42" height="4.63" fill="#00BFFF"/>
<rect x="463.5" y="706.3" width="42" height="4.63" fill="#00AFFF"/>
<rect x="463.5" y="710.6" width="42" height="4.63" fill="#009FFF"/>
<rect x="463.5" y="714.9" width="42" height="4.63" fill="#008FFF"/>
<rect x="463.5" y="719.2" width="42" height="4.63" fill="#0080FF"/>
<rect x="463.5" y="723.6" width="42" height="4.63" fill="#0070FF"/>
<rect x="463.5" y="727.9" width="42" height="4.63" fill="#0060FF"/>
<rect x="463.5" y="732.2" width="42" height="4.63" fill="#0050FF"/>
<rect x="463.5" y="736.6" width="42" height="4.63" fill="#0040FF"/>
<rect x="463.5" y="740.9" width="42" height="4.63" fill="#0030FF"/>
<rect x="463.5" y="745.2" width="42" height="4.63" fill="#0020FF"/>
<rect x="463.5" y="749.5" width="42" height="4.63" fill="#0010FF"/>
<rect x="463.5" y="753.9" width="42" height="4.63" fill="#0000FF"/>
<rect x="463.5" y="758.2" width="42" height="4.63" fill="#0000EF"/>
<rect x="463.5" y="762.5" width="42" height="4.63" fill="#0000DF"/>
<rect x="463.5" y="766.9" width="42" height="4.63" fill="#0000CF"/>
<rect x="463.5" y="771.2" width="42" height="4.63" fill="#0000BF"/>
<rect x="463.5" y="775.5" width="42" height="4.63" fill="#0000AF"/>
<rect x="463.5" y="779.8" width="42" height="4.63" fill="#00009F"/>
<rect x="463.5" y="784.2" width="42" height="4.63" fill="#00008F"/>
<rect x="463.5" y="511.5" width="42" height="277" fill="none" stroke="#000" stroke-width="1"/>
<path d="M464 554.5h2M505 554.5h-3" stroke="#000" stroke-width="1"/>
<text transform="translate(510.4 565) scale(1 1.05)">0</text>
<path d="M464 608.5h2M505 608.5h-3" stroke="#000" stroke-width="1"/>
<text transform="translate(510.4 619.2) scale(1 1.05)">-10</text>
<path d="M464 663.5h2M505 663.5h-3" stroke="#000" stroke-width="1"/>
<text transform="translate(510.4 673.4) scale(1 1.05)">-20</text>
<path d="M464 717.5h2M505 717.5h-3" stroke="#000" stroke-width="1"/>
<text transform="translate(510.4 727.6) scale(1 1.05)">-30</text>
<path d="M464 771.5h2M505 771.5h-3" stroke="#000" stroke-width="1"/>
<text transform="translate(510.4 781.8) scale(1 1.05)">-40</text>
</g>
<text transform="translate(293.2 494) scale(1.03 1.06)" text-anchor="middle">Longitude 110 km</text>
<g clip-path="url(#ce2)" shape-rendering="crispEdges">
<rect x="678" y="500" width="300" height="300" fill="#06061C"/>
<path d="M701.6 830L701.6 589.5C703.5 586.3 708.3 576.8 713 570.6C717.7 564.3 723 558.2 730 552C737 545.8 746.7 538.4 755 533.3C763.3 528.3 771.7 524.8 780 521.7C788.3 518.5 798.3 515.9 805 514.4C811.7 512.9 813.3 512.7 820 512.6C826.7 512.5 836.7 512.6 845 513.9C853.3 515.2 861.7 517.3 870 520.3C878.3 523.4 886.7 527 895 532.4C903.3 537.8 913.1 545.9 920 552.8C926.9 559.6 933.1 568.8 936.5 573.3C939.9 577.8 939.8 578.7 940.5 579.8L952.5 599.2L1000 599.2 L1000 830 Z" fill="#0000FF"/>
<path d="M701.6 830L701.6 591.1C703.5 587.9 708.3 578.3 713 572C717.7 565.8 723 559.7 730 553.6C737 547.4 746.7 540 755 535C763.3 530 771.7 526.5 780 523.4C788.3 520.3 798.3 517.8 805 516.3C811.7 514.9 813.3 514.7 820 514.7C826.7 514.6 836.7 514.8 845 516.1C853.3 517.4 861.7 519.4 870 522.4C878.3 525.5 886.7 528.9 895 534.2C903.3 539.5 913.1 547.6 920 554.2C926.9 560.8 933.1 569.6 936.5 573.8C939.9 578.1 939.8 578.9 940.5 579.9L952.5 598.1L1000 598.1 L1000 830 Z" fill="#0040FF"/>
<path d="M701.6 830L701.6 593.1C703.5 589.9 708.3 580 713 573.7C717.7 567.5 723 561.6 730 555.4C737 549.3 746.7 542 755 537C763.3 531.9 771.7 528.5 780 525.4C788.3 522.3 798.3 519.8 805 518.3C811.7 516.9 813.3 516.7 820 516.7C826.7 516.8 836.7 517.1 845 518.6C853.3 520.1 861.7 522.4 870 525.6C878.3 528.9 886.7 532.7 895 537.9C903.3 543.1 913.1 550.8 920 556.9C926.9 563.1 933.1 571 936.5 574.9C939.9 578.7 939.8 579.2 940.5 580.1L952.5 595.9L1000 595.9 L1000 830 Z" fill="#0080FF"/>
<path d="M688.3 830L688.3 647C688.3 644.5 688.1 636.5 688.4 632C688.7 627.5 689.3 623.6 690.2 620C691.1 616.4 692.7 613.3 694 610.5C695.3 607.7 696.7 605.1 698 603C699.3 600.9 699.1 602.2 701.6 598C704.1 593.8 708.3 584.3 713 578C717.7 571.7 723 566.1 730 560C737 553.9 746.7 546.6 755 541.6C763.3 536.6 771.7 533.1 780 530C788.3 526.9 798.3 524.4 805 523C811.7 521.6 813.3 521.4 820 521.6C826.7 521.8 836.7 522.3 845 524C853.3 525.7 861.7 528.3 870 531.6C878.3 534.9 886.7 539 895 544C903.3 549 913.1 556.2 920 561.6C926.9 567 933.1 573.5 936.5 576.6C939.9 579.8 939.8 579.9 940.5 580.5L952.5 592.2L1000 592.2 L1000 830 Z" fill="#00FFFF"/>
<path d="M692.5 830L692.5 647C692.5 644.5 692.3 636.5 692.6 632C692.9 627.5 693.1 624.1 694.2 620C695.3 615.9 697.2 611.2 699 607.5C700.8 603.8 701.2 603.1 705 598C708.8 592.9 714.7 583.5 721.6 576.6C728.5 569.7 738.3 561.9 746.6 556.6C754.9 551.3 763.3 548 771.6 545C779.9 542 788.4 539.6 796.5 538.3C804.6 537 811.9 536.9 820 537C828.1 537.1 836.7 537.4 845 539C853.3 540.6 861.7 543.4 870 546.6C878.3 549.8 886.7 553.6 895 558.3C903.3 563 913.1 569.5 920 575C926.9 580.5 931.5 585.2 936.5 591.6C941.5 598 946.5 605.8 950 613.2C953.5 620.6 956.2 632.2 957.5 636L980 704.4L1000 704.4 L1000 830 Z" fill="#40FFBF"/>
<path d="M695.8 830L695.8 628C697.3 625.8 700.7 618.8 705 615C709.3 611.2 714.7 607.4 721.6 605C728.5 602.6 738.3 601.5 746.6 600.7C754.9 599.9 763.3 599.8 771.6 600.2C779.9 600.6 788.4 602.2 796.5 603.2C804.6 604.2 810.5 604.4 820 606.5C829.5 608.6 842.2 612.1 853.3 615.7C864.4 619.3 876.9 624 886.6 628.2C896.3 632.4 906 637.9 911.6 640.7C917.2 643.5 915.9 642.4 920 645C924.1 647.6 931.8 652.2 936.5 656.6C941.2 661 945.5 666.9 948.2 671.6C950.9 676.3 952 682.8 952.8 685L966.6 725.2L1000 725.2 L1000 830 Z" fill="#80FF80"/>
<path d="M655.8 647.5L695.8 647.5C696.8 647.9 698.7 647.4 701.6 650C704.5 652.6 708.6 658 713.3 663.3C718 668.6 724.5 676 730 681.6C735.5 687.2 741.1 692 746.6 696.6C752.1 701.2 757.6 705.4 763.2 709C768.8 712.6 773 714.7 780 718.2C787 721.7 798.3 727.2 805 730C811.7 732.8 814.7 733.6 820 735C825.3 736.4 829.7 737.1 836.6 738.2C843.5 739.3 853.3 741 861.6 741.5C869.9 742 878.3 742.5 886.6 741.5C894.9 740.5 903.6 738.2 911.6 735.7C919.6 733.2 930.7 727.8 934.5 726.2L1003.2 697.7L1000 697.7 L1000 830 L640 830 L640 647.5 Z" fill="#BFFF40"/>
<path d="M660.5 673.5L700.5 673.5C700.9 674.4 700.7 674.9 702.8 679C704.9 683.1 708.8 691.5 713.3 698.3C717.8 705.1 724.5 713.9 730 720C735.5 726.1 741.1 730.6 746.6 735C752.1 739.4 757.6 743.2 763.2 746.5C768.8 749.8 773 752.2 780 755C787 757.8 798.3 761.1 805 763.2C811.7 765.3 814.7 766.6 820 767.4C825.3 768.2 829.7 768.2 836.6 768.2C843.5 768.2 853.3 768.4 861.6 767.3C869.9 766.2 878.5 764 886.6 761.5C894.8 759 906.5 753.6 910.5 752L982.2 723.5L1000 723.5 L1000 830 L640 830 L640 673.5 Z" fill="#FFFF00"/>
<path d="M664.5 694L704.5 694C706 696.8 709 704.4 713.3 710.5C717.5 716.6 724.5 724.8 730 730.5C735.5 736.2 741.1 740.5 746.6 744.8C752.1 749 757.6 752.7 763.2 756C768.8 759.3 773 761.7 780 764.5C787 767.3 798.3 770.5 805 772.6C811.7 774.7 813.3 776.4 820 777.3C826.7 778.2 836.7 778.6 845 778.2C853.3 777.8 862.4 776.4 870 774.8C877.6 773.2 887.1 769.5 890.5 768.5L952 749.6L1000 749.6 L1000 830 L640 830 L640 694 Z" fill="#FFBF00"/>
<path d="M666 702L706 702C707.2 704.2 709.3 709.9 713.3 715.5C717.3 721.1 724.5 729.8 730 735.5C735.5 741.2 741.1 745.3 746.6 749.5C752.1 753.7 757.6 757.3 763.2 760.5C768.8 763.7 773 766.1 780 768.8C787 771.5 796.7 774.7 805 776.6C813.3 778.5 821.7 779.8 830 780.4C838.3 781 847.5 780.7 855 780C862.5 779.3 871.7 776.9 875 776.3L935 765.2L1000 765.2 L1000 830 L640 830 L640 702 Z" fill="#FF8000"/>
<path d="M666 708.3L706 708.3C707.2 710.4 709.3 715.5 713.3 720.9C717.3 726.2 724.5 734.8 730 740.3C735.5 745.8 741.1 749.9 746.6 754C752.1 758 757.6 761.4 763.2 764.5C768.8 767.5 773 769.8 780 772.3C787 774.8 796.7 777.7 805 779.4C813.3 781.1 821.7 782 830 782.3C838.3 782.5 847.5 781.8 855 780.8C862.5 779.8 871.7 777 875 776.2L935 762.4L1000 762.4 L1000 830 L640 830 L640 708.3 Z" fill="#FF4000"/>
<path d="M666 712.9L706 712.9C707.2 714.9 709.3 719.7 713.3 724.8C717.3 730 724.5 738.4 730 743.8C735.5 749.2 741.1 753.3 746.6 757.2C752.1 761.2 757.6 764.4 763.2 767.4C768.8 770.3 773 772.5 780 774.8C787 777.2 796.7 780 805 781.4C813.3 782.9 821.7 783.6 830 783.6C838.3 783.6 847.5 782.7 855 781.4C862.5 780.2 871.7 777 875 776.1L935 760.3L1000 760.3 L1000 830 L640 830 L640 712.9 Z" fill="#CF0000"/>
<path d="M666 716.7L706 716.7C707.2 718.6 709.3 723 713.3 728C717.3 733 724.5 741.4 730 746.7C735.5 752 741.1 756.1 746.6 759.9C752.1 763.8 757.6 766.9 763.2 769.8C768.8 772.6 773 774.7 780 776.9C787 779.1 796.7 781.8 805 783.1C813.3 784.4 821.7 785 830 784.8C838.3 784.6 847.5 783.4 855 781.9C862.5 780.5 871.7 777 875 776.1L935 758.6L1000 758.6 L1000 830 L640 830 L640 716.7 Z" fill="#0A0A0A"/>
<path d="M849.6 781.4C848.4 781.6 844.8 782.2 842.4 782.5C840 782.8 837.6 783 835.1 783.2C832.7 783.4 830.3 783.4 827.9 783.5C825.5 783.5 823.1 783.5 820.7 783.3C818.3 783.2 815.9 783 813.5 782.7C811.1 782.4 808.7 782 806.3 781.6C804 781.2 801.6 780.7 799.3 780.2C797 779.7 794.7 779.1 792.4 778.4C790.1 777.7 787.8 777 785.6 776.2C783.4 775.3 781.2 774.4 779 773.4C776.8 772.5 774.7 771.5 772.6 770.4C770.5 769.3 768.4 768.2 766.4 767C764.4 765.8 762.4 764.5 760.4 763.3C758.4 762 756.5 760.8 754.6 759.5C752.6 758.1 750.8 756.7 748.9 755.3C747.1 753.9 745.3 752.4 743.6 750.9C741.8 749.4 740.1 747.8 738.4 746.2C736.7 744.6 735.1 743 733.5 741.4C731.9 739.7 730.3 738 728.8 736.3C727.3 734.5 725.8 732.7 724.4 730.9C723 729.1 721.7 727.2 720.3 725.3C719 723.5 717.8 721.5 716.6 719.6C715.4 717.6 714.2 715.6 713.1 713.6C712 711.6 711 709.6 710 707.5C709 705.4 708 703.4 707.2 701.3C706.3 699.1 705.5 697 704.7 694.9C703.9 692.7 703.1 690.6 702.4 688.4C701.6 686.2 700.9 684.1 700.3 681.9C699.6 679.7 699 677.5 698.5 675.2C698 673 697.5 670.8 697.1 668.5C696.7 666.3 696.3 664 696 661.7C695.7 659.4 695.4 657.1 695.2 654.8C695 652.5 694.9 650.2 694.7 647.9C694.5 645.6 694.2 643.3 694.1 641C693.9 638.6 693.9 636.3 693.8 633.9C693.8 631.6 693.9 629.2 694 626.8C694 624.4 694.2 622.1 694.2 619.6C694.2 617.2 693.6 614.5 693.9 612.1C694.2 609.7 695.4 607.5 696.2 605.3C697 603 698.4 599.7 698.8 598.5L688.9 594.5L683.9 609.3L680.5 624.5L678.8 640L678.7 655.6L680.3 671.2L683.5 686.4L688.4 701.3L694.8 715.5L702.7 728.9L712 741.4L722.6 752.8L734.3 762.9L747 771.8L760.7 779.2L775 785L789.9 789.3L805.2 791.9L820.6 792.9L836.1 792.2L851.4 789.7Z" fill="#0A0A0A"/>
<path d="M783.8 781.5C783 781.1 780.4 779.9 778.7 779C777 778.2 775.4 777.3 773.8 776.3C772.1 775.4 770.5 774.4 769 773.4C767.4 772.5 765.8 771.5 764.2 770.5C762.7 769.5 761.1 768.5 759.6 767.4C758.1 766.4 756.6 765.3 755.2 764.2C753.7 763.1 752.3 762 750.9 760.8C749.5 759.7 748.2 758.4 746.7 757.3C745.3 756.1 743.9 755.1 742.5 754C741.1 752.9 739.7 751.7 738.3 750.6C736.9 749.4 735.6 748.2 734.3 747C733 745.8 731.7 744.5 730.4 743.2C729.1 742 727.9 740.7 726.7 739.3C725.5 738 724.3 736.7 723.1 735.3C722 733.9 720.9 732.5 719.8 731.1C718.7 729.7 717.6 728.2 716.6 726.8C715.5 725.3 714.5 723.8 713.5 722.3C712.6 720.8 711.6 719.3 710.7 717.7C709.8 716.2 708.9 714.6 708 713.1C707.2 711.5 706.3 709.9 705.5 708.3C704.7 706.7 703.9 705.1 703.2 703.4C702.4 701.8 701.7 700.2 701 698.5C700.4 696.8 699.7 695.2 699.1 693.5C698.5 691.8 697.9 690.1 697.4 688.4C696.9 686.6 696.4 684.9 695.9 683.2C695.4 681.5 695 679.7 694.6 678C694.2 676.2 693.8 674.4 693.5 672.7C693.2 670.9 692.9 669.1 692.6 667.4C692.4 665.6 692.2 663.8 692 662C691.8 660.2 691.6 658.4 691.4 656.6C691.2 654.8 691.1 653 690.9 651.2C690.8 649.4 690.7 647.6 690.7 645.8C690.7 644 690.7 642.2 690.7 640.4C690.7 638.6 690.8 636.8 690.9 635C691 633.2 691.2 631.4 691.2 629.5C691.3 627.7 690.9 625.8 691.1 624C691.2 622.1 691.7 620.3 692.1 618.6C692.5 616.8 693 615 693.6 613.3C694.1 611.5 694.6 609.8 695.2 608C695.8 606.3 696.8 603.7 697.1 602.9L687.1 599.2L683.6 610.5L680.9 622.1L679.3 633.8L678.5 645.6L678.8 657.4L680 669.2L682.1 680.8L685.2 692.2L689.2 703.4L694.1 714.1L699.8 724.4L706.4 734.2L713.8 743.5L721.8 752.1L730.6 759.9L739.9 767.1L749.8 773.4L760.2 779L771 783.6L782.2 787.3Z" fill="url(#rimR)"/>
<path d="M701.6 589.5C703.5 586.3 708.3 576.8 713 570.6C717.7 564.3 723 558.2 730 552C737 545.8 746.7 538.4 755 533.3C763.3 528.3 771.7 524.8 780 521.7C788.3 518.5 798.3 515.9 805 514.4C811.7 512.9 813.3 512.7 820 512.6C826.7 512.5 836.7 512.6 845 513.9C853.3 515.2 861.7 517.3 870 520.3C878.3 523.4 886.7 527 895 532.4C903.3 537.8 913.1 545.9 920 552.8C926.9 559.6 933.1 568.8 936.5 573.3C939.9 577.8 939.8 578.7 940.5 579.8" fill="none" stroke="#000" stroke-width="1"/>
<path d="M701.6 591.1C703.5 587.9 708.3 578.3 713 572C717.7 565.8 723 559.7 730 553.6C737 547.4 746.7 540 755 535C763.3 530 771.7 526.5 780 523.4C788.3 520.3 798.3 517.8 805 516.3C811.7 514.9 813.3 514.7 820 514.7C826.7 514.6 836.7 514.8 845 516.1C853.3 517.4 861.7 519.4 870 522.4C878.3 525.5 886.7 528.9 895 534.2C903.3 539.5 913.1 547.6 920 554.2C926.9 560.8 933.1 569.6 936.5 573.8C939.9 578.1 939.8 578.9 940.5 579.9" fill="none" stroke="#000" stroke-width="1"/>
<path d="M701.6 593.1C703.5 589.9 708.3 580 713 573.7C717.7 567.5 723 561.6 730 555.4C737 549.3 746.7 542 755 537C763.3 531.9 771.7 528.5 780 525.4C788.3 522.3 798.3 519.8 805 518.3C811.7 516.9 813.3 516.7 820 516.7C826.7 516.8 836.7 517.1 845 518.6C853.3 520.1 861.7 522.4 870 525.6C878.3 528.9 886.7 532.7 895 537.9C903.3 543.1 913.1 550.8 920 556.9C926.9 563.1 933.1 571 936.5 574.9C939.9 578.7 939.8 579.2 940.5 580.1" fill="none" stroke="#000" stroke-width="1"/>
<path d="M688.3 647C688.3 644.5 688.1 636.5 688.4 632C688.7 627.5 689.3 623.6 690.2 620C691.1 616.4 692.7 613.3 694 610.5C695.3 607.7 696.7 605.1 698 603C699.3 600.9 699.1 602.2 701.6 598C704.1 593.8 708.3 584.3 713 578C717.7 571.7 723 566.1 730 560C737 553.9 746.7 546.6 755 541.6C763.3 536.6 771.7 533.1 780 530C788.3 526.9 798.3 524.4 805 523C811.7 521.6 813.3 521.4 820 521.6C826.7 521.8 836.7 522.3 845 524C853.3 525.7 861.7 528.3 870 531.6C878.3 534.9 886.7 539 895 544C903.3 549 913.1 556.2 920 561.6C926.9 567 933.1 573.5 936.5 576.6C939.9 579.8 939.8 579.9 940.5 580.5" fill="none" stroke="#000" stroke-width="1"/>
<path d="M692.5 647C692.5 644.5 692.3 636.5 692.6 632C692.9 627.5 693.1 624.1 694.2 620C695.3 615.9 697.2 611.2 699 607.5C700.8 603.8 701.2 603.1 705 598C708.8 592.9 714.7 583.5 721.6 576.6C728.5 569.7 738.3 561.9 746.6 556.6C754.9 551.3 763.3 548 771.6 545C779.9 542 788.4 539.6 796.5 538.3C804.6 537 811.9 536.9 820 537C828.1 537.1 836.7 537.4 845 539C853.3 540.6 861.7 543.4 870 546.6C878.3 549.8 886.7 553.6 895 558.3C903.3 563 913.1 569.5 920 575C926.9 580.5 931.5 585.2 936.5 591.6C941.5 598 946.5 605.8 950 613.2C953.5 620.6 956.2 632.2 957.5 636" fill="none" stroke="#000" stroke-width="1"/>
<path d="M695.8 628C697.3 625.8 700.7 618.8 705 615C709.3 611.2 714.7 607.4 721.6 605C728.5 602.6 738.3 601.5 746.6 600.7C754.9 599.9 763.3 599.8 771.6 600.2C779.9 600.6 788.4 602.2 796.5 603.2C804.6 604.2 810.5 604.4 820 606.5C829.5 608.6 842.2 612.1 853.3 615.7C864.4 619.3 876.9 624 886.6 628.2C896.3 632.4 906 637.9 911.6 640.7C917.2 643.5 915.9 642.4 920 645C924.1 647.6 931.8 652.2 936.5 656.6C941.2 661 945.5 666.9 948.2 671.6C950.9 676.3 952 682.8 952.8 685" fill="none" stroke="#000" stroke-width="1"/>
<path d="M695.8 647.5C696.8 647.9 698.7 647.4 701.6 650C704.5 652.6 708.6 658 713.3 663.3C718 668.6 724.5 676 730 681.6C735.5 687.2 741.1 692 746.6 696.6C752.1 701.2 757.6 705.4 763.2 709C768.8 712.6 773 714.7 780 718.2C787 721.7 798.3 727.2 805 730C811.7 732.8 814.7 733.6 820 735C825.3 736.4 829.7 737.1 836.6 738.2C843.5 739.3 853.3 741 861.6 741.5C869.9 742 878.3 742.5 886.6 741.5C894.9 740.5 903.6 738.2 911.6 735.7C919.6 733.2 930.7 727.8 934.5 726.2" fill="none" stroke="#000" stroke-width="1"/>
<path d="M700.5 673.5C700.9 674.4 700.7 674.9 702.8 679C704.9 683.1 708.8 691.5 713.3 698.3C717.8 705.1 724.5 713.9 730 720C735.5 726.1 741.1 730.6 746.6 735C752.1 739.4 757.6 743.2 763.2 746.5C768.8 749.8 773 752.2 780 755C787 757.8 798.3 761.1 805 763.2C811.7 765.3 814.7 766.6 820 767.4C825.3 768.2 829.7 768.2 836.6 768.2C843.5 768.2 853.3 768.4 861.6 767.3C869.9 766.2 878.5 764 886.6 761.5C894.8 759 906.5 753.6 910.5 752" fill="none" stroke="#000" stroke-width="1"/>
<path d="M704.5 694C706 696.8 709 704.4 713.3 710.5C717.5 716.6 724.5 724.8 730 730.5C735.5 736.2 741.1 740.5 746.6 744.8C752.1 749 757.6 752.7 763.2 756C768.8 759.3 773 761.7 780 764.5C787 767.3 798.3 770.5 805 772.6C811.7 774.7 813.3 776.4 820 777.3C826.7 778.2 836.7 778.6 845 778.2C853.3 777.8 862.4 776.4 870 774.8C877.6 773.2 887.1 769.5 890.5 768.5" fill="none" stroke="#000" stroke-width="1"/>
<path d="M706 702C707.2 704.2 709.3 709.9 713.3 715.5C717.3 721.1 724.5 729.8 730 735.5C735.5 741.2 741.1 745.3 746.6 749.5C752.1 753.7 757.6 757.3 763.2 760.5C768.8 763.7 773 766.1 780 768.8C787 771.5 796.7 774.7 805 776.6C813.3 778.5 821.7 779.8 830 780.4C838.3 781 847.5 780.7 855 780C862.5 779.3 871.7 776.9 875 776.3" fill="none" stroke="#000" stroke-width="1"/>
<path d="M706 708.3C707.2 710.4 709.3 715.5 713.3 720.9C717.3 726.2 724.5 734.8 730 740.3C735.5 745.8 741.1 749.9 746.6 754C752.1 758 757.6 761.4 763.2 764.5C768.8 767.5 773 769.8 780 772.3C787 774.8 796.7 777.7 805 779.4C813.3 781.1 821.7 782 830 782.3C838.3 782.5 847.5 781.8 855 780.8C862.5 779.8 871.7 777 875 776.2" fill="none" stroke="#000" stroke-width="1"/>
<path d="M706 712.9C707.2 714.9 709.3 719.7 713.3 724.8C717.3 730 724.5 738.4 730 743.8C735.5 749.2 741.1 753.3 746.6 757.2C752.1 761.2 757.6 764.4 763.2 767.4C768.8 770.3 773 772.5 780 774.8C787 777.2 796.7 780 805 781.4C813.3 782.9 821.7 783.6 830 783.6C838.3 783.6 847.5 782.7 855 781.4C862.5 780.2 871.7 777 875 776.1" fill="none" stroke="#000" stroke-width="1"/>
<path d="M706 716.7C707.2 718.6 709.3 723 713.3 728C717.3 733 724.5 741.4 730 746.7C735.5 752 741.1 756.1 746.6 759.9C752.1 763.8 757.6 766.9 763.2 769.8C768.8 772.6 773 774.7 780 776.9C787 779.1 796.7 781.8 805 783.1C813.3 784.4 821.7 785 830 784.8C838.3 784.6 847.5 783.4 855 781.9C862.5 780.5 871.7 777 875 776.1" fill="none" stroke="#000" stroke-width="1"/>
<path d="M702.9 717.8C702.5 716.9 701.4 714.5 700.8 712.9C700.1 711.2 699.4 709.6 698.8 707.9C698.2 706.3 697.6 704.6 697.1 702.9C696.6 701.3 696.1 699.6 695.6 697.9C695.1 696.2 694.6 694.6 694.1 692.9C693.6 691.2 693.1 689.5 692.7 687.9C692.3 686.2 691.9 684.5 691.5 682.8C691.1 681.1 690.8 679.4 690.4 677.7C690.1 676 689.9 674.3 689.6 672.6C689.3 670.8 689.1 669.1 688.9 667.4C688.7 665.7 688.5 664 688.4 662.3C688.3 660.5 688.2 658.8 688.1 657.1C688 655.3 688 653.6 688 651.9C688 650.2 688 648.4 688.1 646.7C688.2 645 688.2 643.3 688.4 641.6C688.5 639.8 688.7 638.1 688.9 636.4C689.1 634.7 689.3 633 689.5 631.3C689.8 629.6 690.1 627.9 690.4 626.2C690.7 624.5 691.1 622.8 691.5 621.2C691.9 619.5 692.3 617.8 692.7 616.2C693.2 614.5 693.7 612.9 694.2 611.2C694.7 609.6 695.2 608 695.8 606.4C696.4 604.8 697 603.2 697.6 601.6C698.2 600 698.9 598.4 699.6 596.8C700.2 595.3 701 593.7 701.7 592.2C702.4 590.6 703.2 589.1 704 587.6C704.8 586.1 705.6 584.6 706.5 583.2C707.3 581.7 708.2 580.2 709.1 578.8C710.1 577.3 711 575.9 712 574.5C712.9 573.1 713.9 571.7 714.8 570.3C715.8 568.9 716.7 567.5 717.7 566.1C718.7 564.7 719.8 563.4 720.7 562C721.7 560.5 722.5 559 723.4 557.5C724.2 555.9 725 554.3 726 552.8C726.9 551.3 728 549.9 729.1 548.6C730.3 547.2 731.6 546.1 732.9 544.9C734.1 543.7 735.4 542.5 736.7 541.3C738 540.2 739.3 539 740.7 537.9C742 536.7 743.4 535.6 744.7 534.5C746.1 533.4 748.2 531.8 748.9 531.3L745.8 526.2L736.7 532.5L728.1 539.4L720.1 546.9L712.6 555.1L705.8 563.8L699.7 573L694.3 582.6L689.7 592.7L685.8 603.1L682.8 613.7L680.5 624.5L679.1 635.5L678.5 646.6L678.8 657.7L679.9 668.7L681.8 679.6L684.6 690.3L688.2 700.8L692.5 710.9L697.7 720.8Z" fill="url(#rimR2)"/>
<path d="M702.9 717.8C702.5 716.9 701.4 714.5 700.8 712.9C700.1 711.2 699.4 709.6 698.8 707.9C698.2 706.3 697.6 704.6 697.1 702.9C696.6 701.3 696.1 699.6 695.6 697.9C695.1 696.2 694.6 694.6 694.1 692.9C693.6 691.2 693.1 689.5 692.7 687.9C692.3 686.2 691.9 684.5 691.5 682.8C691.1 681.1 690.8 679.4 690.4 677.7C690.1 676 689.9 674.3 689.6 672.6C689.3 670.8 689.1 669.1 688.9 667.4C688.7 665.7 688.5 664 688.4 662.3C688.3 660.5 688.2 658.8 688.1 657.1C688 655.3 688 653.6 688 651.9C688 650.2 688 648.4 688.1 646.7C688.2 645 688.2 643.3 688.4 641.6C688.5 639.8 688.7 638.1 688.9 636.4C689.1 634.7 689.3 633 689.5 631.3C689.8 629.6 690.1 627.9 690.4 626.2C690.7 624.5 691.1 622.8 691.5 621.2C691.9 619.5 692.3 617.8 692.7 616.2C693.2 614.5 693.7 612.9 694.2 611.2C694.7 609.6 695.2 608 695.8 606.4C696.4 604.8 697 603.2 697.6 601.6C698.2 600 698.9 598.4 699.6 596.8C700.2 595.3 701 593.7 701.7 592.2C702.4 590.6 703.2 589.1 704 587.6C704.8 586.1 705.6 584.6 706.5 583.2C707.3 581.7 708.2 580.2 709.1 578.8C710.1 577.3 711 575.9 712 574.5C712.9 573.1 713.9 571.7 714.8 570.3C715.8 568.9 716.7 567.5 717.7 566.1C718.7 564.7 719.8 563.4 720.7 562C721.7 560.5 722.5 559 723.4 557.5C724.2 555.9 725 554.3 726 552.8C726.9 551.3 728 549.9 729.1 548.6C730.3 547.2 731.6 546.1 732.9 544.9C734.1 543.7 735.4 542.5 736.7 541.3C738 540.2 739.3 539 740.7 537.9C742 536.7 743.4 535.6 744.7 534.5C746.1 533.4 748.2 531.8 748.9 531.3" fill="none" stroke="#000" stroke-width="1"/>
<path d="M783.8 781.5C783 781.1 780.4 779.9 778.7 779C777 778.2 775.4 777.3 773.8 776.3C772.1 775.4 770.5 774.4 769 773.4C767.4 772.5 765.8 771.5 764.2 770.5C762.7 769.5 761.1 768.5 759.6 767.4C758.1 766.4 756.6 765.3 755.2 764.2C753.7 763.1 752.3 762 750.9 760.8C749.5 759.7 748.2 758.4 746.7 757.3C745.3 756.1 743.9 755.1 742.5 754C741.1 752.9 739.7 751.7 738.3 750.6C736.9 749.4 735.6 748.2 734.3 747C733 745.8 731.7 744.5 730.4 743.2C729.1 742 727.9 740.7 726.7 739.3C725.5 738 724.3 736.7 723.1 735.3C722 733.9 720.9 732.5 719.8 731.1C718.7 729.7 717.6 728.2 716.6 726.8C715.5 725.3 714.5 723.8 713.5 722.3C712.6 720.8 711.6 719.3 710.7 717.7C709.8 716.2 708.9 714.6 708 713.1C707.2 711.5 706.3 709.9 705.5 708.3C704.7 706.7 703.9 705.1 703.2 703.4C702.4 701.8 701.7 700.2 701 698.5C700.4 696.8 699.7 695.2 699.1 693.5C698.5 691.8 697.9 690.1 697.4 688.4C696.9 686.6 696.4 684.9 695.9 683.2C695.4 681.5 695 679.7 694.6 678C694.2 676.2 693.8 674.4 693.5 672.7C693.2 670.9 692.9 669.1 692.6 667.4C692.4 665.6 692.2 663.8 692 662C691.8 660.2 691.6 658.4 691.4 656.6C691.2 654.8 691.1 653 690.9 651.2C690.8 649.4 690.7 647.6 690.7 645.8C690.7 644 690.7 642.2 690.7 640.4C690.7 638.6 690.8 636.8 690.9 635C691 633.2 691.2 631.4 691.2 629.5C691.3 627.7 690.9 625.8 691.1 624C691.2 622.1 691.7 620.3 692.1 618.6C692.5 616.8 693 615 693.6 613.3C694.1 611.5 694.6 609.8 695.2 608C695.8 606.3 696.8 603.7 697.1 602.9" fill="none" stroke="#000" stroke-width="1"/>
<path d="M779.4 779.7C778.8 779.5 777.1 778.8 776 778.2C774.8 777.7 773.7 777.2 772.6 776.6C771.5 776.1 770.4 775.5 769.3 775C768.2 774.4 767.2 773.8 766.1 773.2C765 772.6 763.9 772 762.9 771.4C761.8 770.8 760.7 770.2 759.7 769.6C758.7 769 757.6 768.3 756.6 767.7C755.6 767 754.6 766.3 753.5 765.6C752.5 764.9 751.5 764.2 750.6 763.5C749.6 762.8 748.6 762.1 747.6 761.4C746.7 760.6 745.7 759.9 744.8 759.1C743.8 758.4 742.8 757.7 741.8 757C740.9 756.2 739.9 755.5 739 754.7C738 754 737.1 753.2 736.2 752.4C735.3 751.6 734.4 750.8 733.5 750C732.6 749.2 731.7 748.4 730.8 747.6C729.9 746.7 729 745.9 728.2 745C727.3 744.2 726.5 743.3 725.7 742.4C724.8 741.5 724 740.6 723.2 739.7C722.4 738.8 721.6 737.9 720.8 737C720 736.1 719.3 735.1 718.5 734.2C717.7 733.3 717 732.3 716.3 731.3C715.5 730.4 714.8 729.4 714.1 728.4C713.4 727.4 712.7 726.4 712 725.4C711.3 724.4 710.7 723.4 710 722.4C709.4 721.4 708.7 720.4 708.1 719.3C707.5 718.3 706.9 717.2 706.3 716.2C705.7 715.1 705.1 714.1 704.5 713C703.9 711.9 703.4 710.9 702.8 709.8C702.3 708.7 701.7 707.6 701.2 706.5C700.7 705.4 700.2 704.3 699.7 703.2C699.2 702.1 698.8 701 698.3 699.9C697.8 698.8 697.4 697.6 697 696.5C696.5 695.4 696.1 694.2 695.7 693.1C695.3 691.9 695 690.8 694.6 689.6C694.2 688.5 693.9 687.3 693.5 686.1C693.2 685 692.9 683.8 692.6 682.6C692.3 681.5 692 680.3 691.7 679.1C691.4 677.9 691.2 676.7 690.9 675.5C690.7 674.4 690.4 672.6 690.3 672" fill="none" stroke="#000" stroke-width="1" stroke-dasharray="4 2"/>
</g>
<g clip-path="url(#cb2)"><ellipse cx="821.6" cy="648.6" rx="137.1" ry="138.3" fill="none" stroke="#000" stroke-width="1.2" shape-rendering="crispEdges"/></g>
<g shape-rendering="crispEdges">
<rect x="684.5" y="510.5" width="275" height="276" fill="none" stroke="#000" stroke-width="1"/>
<text transform="translate(734.4 817.3) scale(1 1.05)" text-anchor="middle">200</text>
<text transform="translate(808.8 817.3) scale(1 1.05)" text-anchor="middle">300</text>
<text transform="translate(883.2 817.3) scale(1 1.05)" text-anchor="middle">400</text>
<text transform="translate(957.6 817.3) scale(1 1.05)" text-anchor="middle">500</text>
<text transform="translate(678.6 529.9) scale(1 1.05)" text-anchor="end">400</text>
<text transform="translate(678.6 604.2) scale(1 1.05)" text-anchor="end">300</text>
<text transform="translate(678.6 678.6) scale(1 1.05)" text-anchor="end">200</text>
<text transform="translate(678.6 752.9) scale(1 1.05)" text-anchor="end">100</text>
<path d="M734.5 786v-3M734.5 511v3M808.5 786v-3M808.5 511v3M883.5 786v-3M883.5 511v3M957.5 786v-3M957.5 511v3M685 519.5h3M959 519.5h-3M685 593.5h3M959 593.5h-3M685 668.5h3M959 668.5h-3M685 742.5h3M959 742.5h-3" stroke="#000" stroke-width="1" fill="none"/>
<rect x="991.5" y="511.5" width="42" height="4.63" fill="#800000"/>
<rect x="991.5" y="515.8" width="42" height="4.63" fill="#8F0000"/>
<rect x="991.5" y="520.2" width="42" height="4.63" fill="#9F0000"/>
<rect x="991.5" y="524.5" width="42" height="4.63" fill="#AF0000"/>
<rect x="991.5" y="528.8" width="42" height="4.63" fill="#BF0000"/>
<rect x="991.5" y="533.1" width="42" height="4.63" fill="#CF0000"/>
<rect x="991.5" y="537.5" width="42" height="4.63" fill="#DF0000"/>
<rect x="991.5" y="541.8" width="42" height="4.63" fill="#EF0000"/>
<rect x="991.5" y="546.1" width="42" height="4.63" fill="#FF0000"/>
<rect x="991.5" y="550.5" width="42" height="4.63" fill="#FF1000"/>
<rect x="991.5" y="554.8" width="42" height="4.63" fill="#FF2000"/>
<rect x="991.5" y="559.1" width="42" height="4.63" fill="#FF3000"/>
<rect x="991.5" y="563.4" width="42" height="4.63" fill="#FF4000"/>
<rect x="991.5" y="567.8" width="42" height="4.63" fill="#FF5000"/>
<rect x="991.5" y="572.1" width="42" height="4.63" fill="#FF6000"/>
<rect x="991.5" y="576.4" width="42" height="4.63" fill="#FF7000"/>
<rect x="991.5" y="580.8" width="42" height="4.63" fill="#FF8000"/>
<rect x="991.5" y="585.1" width="42" height="4.63" fill="#FF8F00"/>
<rect x="991.5" y="589.4" width="42" height="4.63" fill="#FF9F00"/>
<rect x="991.5" y="593.7" width="42" height="4.63" fill="#FFAF00"/>
<rect x="991.5" y="598.1" width="42" height="4.63" fill="#FFBF00"/>
<rect x="991.5" y="602.4" width="42" height="4.63" fill="#FFCF00"/>
<rect x="991.5" y="606.7" width="42" height="4.63" fill="#FFDF00"/>
<rect x="991.5" y="611" width="42" height="4.63" fill="#FFEF00"/>
<rect x="991.5" y="615.4" width="42" height="4.63" fill="#FFFF00"/>
<rect x="991.5" y="619.7" width="42" height="4.63" fill="#EFFF10"/>
<rect x="991.5" y="624" width="42" height="4.63" fill="#DFFF20"/>
<rect x="991.5" y="628.4" width="42" height="4.63" fill="#CFFF30"/>
<rect x="991.5" y="632.7" width="42" height="4.63" fill="#BFFF40"/>
<rect x="991.5" y="637" width="42" height="4.63" fill="#AFFF50"/>
<rect x="991.5" y="641.3" width="42" height="4.63" fill="#9FFF60"/>
<rect x="991.5" y="645.7" width="42" height="4.63" fill="#8FFF70"/>
<rect x="991.5" y="650" width="42" height="4.63" fill="#80FF80"/>
<rect x="991.5" y="654.3" width="42" height="4.63" fill="#70FF8F"/>
<rect x="991.5" y="658.7" width="42" height="4.63" fill="#60FF9F"/>
<rect x="991.5" y="663" width="42" height="4.63" fill="#50FFAF"/>
<rect x="991.5" y="667.3" width="42" height="4.63" fill="#40FFBF"/>
<rect x="991.5" y="671.6" width="42" height="4.63" fill="#30FFCF"/>
<rect x="991.5" y="676" width="42" height="4.63" fill="#20FFDF"/>
<rect x="991.5" y="680.3" width="42" height="4.63" fill="#10FFEF"/>
<rect x="991.5" y="684.6" width="42" height="4.63" fill="#00FFFF"/>
<rect x="991.5" y="689" width="42" height="4.63" fill="#00EFFF"/>
<rect x="991.5" y="693.3" width="42" height="4.63" fill="#00DFFF"/>
<rect x="991.5" y="697.6" width="42" height="4.63" fill="#00CFFF"/>
<rect x="991.5" y="701.9" width="42" height="4.63" fill="#00BFFF"/>
<rect x="991.5" y="706.3" width="42" height="4.63" fill="#00AFFF"/>
<rect x="991.5" y="710.6" width="42" height="4.63" fill="#009FFF"/>
<rect x="991.5" y="714.9" width="42" height="4.63" fill="#008FFF"/>
<rect x="991.5" y="719.2" width="42" height="4.63" fill="#0080FF"/>
<rect x="991.5" y="723.6" width="42" height="4.63" fill="#0070FF"/>
<rect x="991.5" y="727.9" width="42" height="4.63" fill="#0060FF"/>
<rect x="991.5" y="732.2" width="42" height="4.63" fill="#0050FF"/>
<rect x="991.5" y="736.6" width="42" height="4.63" fill="#0040FF"/>
<rect x="991.5" y="740.9" width="42" height="4.63" fill="#0030FF"/>
<rect x="991.5" y="745.2" width="42" height="4.63" fill="#0020FF"/>
<rect x="991.5" y="749.5" width="42" height="4.63" fill="#0010FF"/>
<rect x="991.5" y="753.9" width="42" height="4.63" fill="#0000FF"/>
<rect x="991.5" y="758.2" width="42" height="4.63" fill="#0000EF"/>
<rect x="991.5" y="762.5" width="42" height="4.63" fill="#0000DF"/>
<rect x="991.5" y="766.9" width="42" height="4.63" fill="#0000CF"/>
<rect x="991.5" y="771.2" width="42" height="4.63" fill="#0000BF"/>
<rect x="991.5" y="775.5" width="42" height="4.63" fill="#0000AF"/>
<rect x="991.5" y="779.8" width="42" height="4.63" fill="#00009F"/>
<rect x="991.5" y="784.2" width="42" height="4.63" fill="#00008F"/>
<rect x="991.5" y="511.5" width="42" height="277" fill="none" stroke="#000" stroke-width="1"/>
<path d="M992 537.5h2M1033 537.5h-3" stroke="#000" stroke-width="1"/>
<text transform="translate(1038.4 547.9) scale(1 1.05)">75</text>
<path d="M992 603.5h2M1033 603.5h-3" stroke="#000" stroke-width="1"/>
<text transform="translate(1038.4 613.8) scale(1 1.05)">70</text>
<path d="M992 669.5h2M1033 669.5h-3" stroke="#000" stroke-width="1"/>
<text transform="translate(1038.4 679.7) scale(1 1.05)">65</text>
<path d="M992 735.5h2M1033 735.5h-3" stroke="#000" stroke-width="1"/>
<text transform="translate(1038.4 745.7) scale(1 1.05)">60</text>
</g>
<text transform="translate(821.2 494) scale(1.03 1.06)" text-anchor="middle">Latitude 110 km</text>
</svg>
</body></html>
